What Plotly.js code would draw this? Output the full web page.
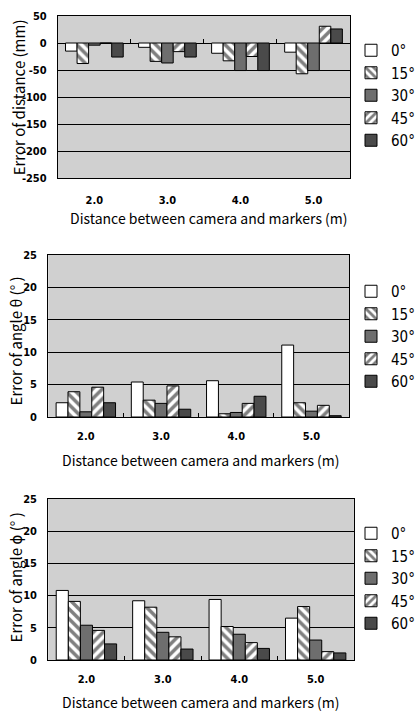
<!DOCTYPE html>
<html><head><meta charset="utf-8">
<script src="https://cdn.plot.ly/plotly-3.0.1.min.js"></script>
<style>html,body{margin:0;padding:0;background:#fff}#chart{width:420px;height:713px}</style>
</head><body><div id="chart"></div>
<script>
// ---- data ----
const categories = ['2.0', '3.0', '4.0', '5.0'];
const angleLabels = ['0°', '15°', '30°', '45°', '60°'];
// Error of distance (mm)
const dist0 = [-15, -8, -19, -17];
const dist15 = [-38, -34, -33, -57];
const dist30 = [-4, -37, -51, -51];
const dist45 = [0, -16, -25, 31];
const dist60 = [-26, -26, -51, 26];
// Error of angle theta (deg)
const theta0 = [2.2, 5.4, 5.6, 11.1];
const theta15 = [3.9, 2.6, 0.5, 2.2];
const theta30 = [0.8, 2.1, 0.7, 0.9];
const theta45 = [4.6, 4.8, 2.1, 1.8];
const theta60 = [2.2, 1.2, 3.2, 0.2];
// Error of angle phi (deg)
const phi0 = [10.8, 9.2, 9.4, 6.5];
const phi15 = [9.1, 8.2, 5.2, 8.3];
const phi30 = [5.4, 4.3, 4.0, 3.1];
const phi45 = [4.6, 3.6, 2.7, 1.3];
const phi60 = [2.5, 1.7, 1.8, 1.1];
// y tick labels
const distTickVals = [50, 0, -50, -100, -150, -200, -250];
const distTickText = ['50', '0', '-50', '-100', '-150', '-200', '-250'];
const angleTickVals = [0, 5, 10, 15, 20, 25];
const angleTickText = ['0', '5', '10', '15', '20', '25'];

const yTitles = ['Error of distance (mm)', 'Error of angle θ (° )', 'Error of angle ϕ (° )'];
const xTitle = 'Distance between camera and markers (m)';

// ---- styles ----
const FONT = '"Noto Sans CJK JP", "DejaVu Sans", sans-serif';
const NARROW = '"DejaVu Sans Condensed", "Liberation Sans Narrow", sans-serif';
const styles = [
  {color: '#ffffff'},
  {color: '#ffffff', pattern: {shape: '\\', fgcolor: '#000', bgcolor: '#fff', size: 7, solidity: 0.5, fillmode: 'overlay'}},
  {color: '#6e6e6e'},
  {color: '#ffffff', pattern: {shape: '/', fgcolor: '#000', bgcolor: '#fff', size: 7, solidity: 0.5, fillmode: 'overlay'}},
  {color: '#4a4a4a'}
];

const groups = [
  {series: [dist0, dist15, dist30, dist45, dist60], x: 'x', y: 'y', legend: 'legend'},
  {series: [theta0, theta15, theta30, theta45, theta60], x: 'x2', y: 'y2', legend: 'legend2'},
  {series: [phi0, phi15, phi30, phi45, phi60], x: 'x3', y: 'y3', legend: 'legend3'}
];

const traces = [];
groups.forEach(g => {
  g.series.forEach((vals, i) => {
    const marker = {color: styles[i].color, line: {color: '#000', width: 1}};
    if (styles[i].pattern) marker.pattern = styles[i].pattern;
    traces.push({
      type: 'bar', x: categories, y: vals, name: angleLabels[i],
      xaxis: g.x, yaxis: g.y, legend: g.legend, marker: marker
    });
  });
});

const H = 713, W = 420;
const boxes = [
  {l: 60, r: 363, t: 16, b: 178, range: [-250, 50], tv: distTickVals, tt: distTickText,
   ytx: 19, yty: 97, xtx: 217, xty: 218, legTop: 34, xstand: 12},
  {l: 50, r: 362, t: 255, b: 417, range: [0, 25], tv: angleTickVals, tt: angleTickText,
   ytx: 16, yty: 341, xtx: 208, xty: 460, legTop: 275, xstand: 9},
  {l: 50, r: 367, t: 499, b: 660, range: [0, 25], tv: angleTickVals, tt: angleTickText,
   ytx: 16, yty: 577, xtx: 208, xty: 702, legTop: 517, xstand: 9}
];

const layout = {
  width: W, height: H,
  margin: {l: 0, r: 0, t: 0, b: 0},
  paper_bgcolor: '#ffffff',
  plot_bgcolor: '#d0d0d0',
  barmode: 'group', bargap: 0.21, bargroupgap: 0,
  font: {family: FONT, color: '#000'},
  showlegend: true,
  annotations: []
};

boxes.forEach((b, k) => {
  const sfx = k === 0 ? '' : String(k + 1);
  layout['xaxis' + sfx] = {
    domain: [b.l / W, b.r / W], anchor: 'y' + sfx, type: 'category',
    showgrid: false, zeroline: false, showline: true, mirror: true, linecolor: '#000', linewidth: 1,
    ticks: k === 0 ? '' : 'inside', tickson: 'boundaries', ticklen: 4, tickcolor: '#000',
    tickfont: {size: 11, family: NARROW, weight: 'bold'}, ticklabelstandoff: b.xstand,
    automargin: false, fixedrange: true
  };
  layout['yaxis' + sfx] = {
    domain: [1 - b.b / H, 1 - b.t / H], anchor: 'x' + sfx,
    range: b.range, tickmode: 'array', tickvals: b.tv, ticktext: b.tt,
    showgrid: true, gridcolor: '#000', gridwidth: 1,
    zeroline: true, zerolinecolor: '#000', zerolinewidth: 1,
    showline: true, mirror: true, linecolor: '#000', linewidth: 1,
    ticks: '', tickfont: {size: 11, family: NARROW, weight: 'bold'}, ticklabelstandoff: 8,
    automargin: false, fixedrange: true
  };
  const legName = k === 0 ? 'legend' : 'legend' + (k + 1);
  layout[legName] = {
    x: 364 / W, xanchor: 'left',
    y: 1 - b.legTop / H, yanchor: 'top',
    bgcolor: 'rgba(0,0,0,0)', borderwidth: 0,
    font: {size: 15, family: NARROW}, itemwidth: 30, tracegroupgap: 0
  };
  layout.annotations.push({
    text: yTitles[k], xref: 'paper', yref: 'paper',
    x: b.ytx / W, y: 1 - b.yty / H, xanchor: 'center', yanchor: 'middle',
    textangle: -90, showarrow: false, font: {size: 15, family: FONT}, borderpad: 0
  });
  layout.annotations.push({
    text: xTitle, xref: 'paper', yref: 'paper',
    x: b.xtx / W, y: 1 - b.xty / H, xanchor: 'center', yanchor: 'middle',
    showarrow: false, font: {size: 14, family: FONT}, borderpad: 0
  });
});

// overlay axis for chart 1: tick marks at the zero line
layout.xaxis4 = {
  overlaying: 'x', anchor: 'free', position: 1 - 43 / H,
  domain: [boxes[0].l / W, boxes[0].r / W],
  type: 'linear', range: [-0.5, 3.5], tickvals: [0.5, 1.5, 2.5],
  ticks: 'inside', ticklen: 4, tickcolor: '#000', showticklabels: false,
  showgrid: false, zeroline: false, showline: false, fixedrange: true
};
traces.push({type: 'scatter', x: [], y: [], xaxis: 'x4', yaxis: 'y', showlegend: false, hoverinfo: 'skip'});

Plotly.newPlot('chart', traces, layout, {staticPlot: true});
</script>
</body></html>
